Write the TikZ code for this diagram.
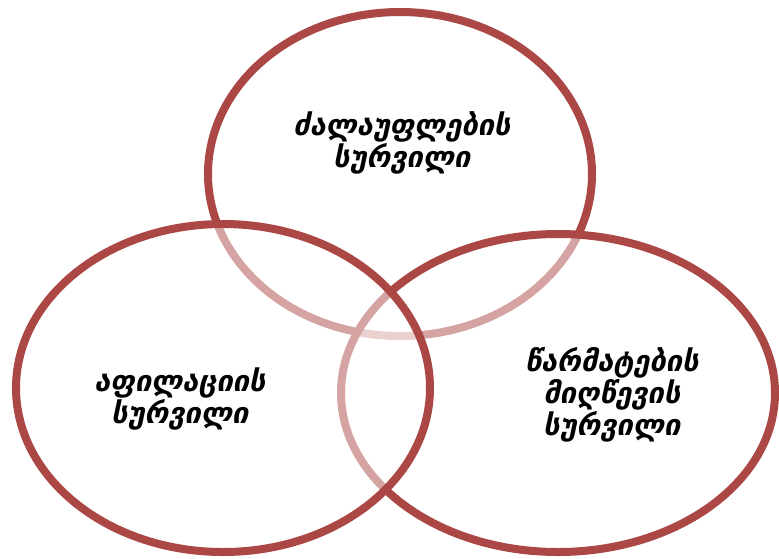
\documentclass[tikz,border=0pt]{standalone}
\usepackage{fontspec}
\newfontfamily\geofont{DejaVu Sans}
\usetikzlibrary{positioning}
\definecolor{vennred}{RGB}{171,71,68}

\begin{document}
\begin{tikzpicture}[
  x=1pt,y=-1pt,
  ring/.style={draw=vennred,line width=8pt,fill=white,fill opacity=0.5},
  lbl/.style={font=\geofont\bfseries\itshape\fontsize{29}{30}\selectfont,align=center}
]
\useasboundingbox (0,0) rectangle (779,558);
% top, right, left -- the later ring washes out the earlier outlines
\draw[ring] (400,174) ellipse [x radius=192,y radius=162];
\draw[ring] (558,393) ellipse [x radius=217,y radius=159];
\draw[ring] (223,388) ellipse [x radius=207,y radius=164];
\node[lbl] (power) at (402,143) {ძალაუფლების\\სურვილი};
\node[lbl] (affil) at (180,399) {აფილაციის\\სურვილი};
\node[lbl] (achieve) at (612,395) {წარმატების\\მიღწევის\\სურვილი};
\end{tikzpicture}
\end{document}
